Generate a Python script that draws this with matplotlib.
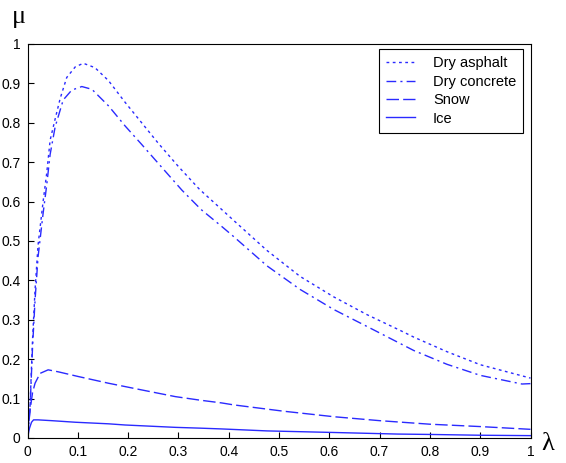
#!/usr/bin/env python

import numpy as np
from matplotlib import pyplot as plt

# slip ratio / friction coefficient
lam_asphalt = [0, 0.005, 0.010, 0.015, 0.021, 0.031, 0.038, 0.045, 0.055, 0.065, 0.078, 0.095,
               0.111, 0.134, 0.161, 0.194, 0.227, 0.260, 0.300, 0.342, 0.386, 0.410, 0.476,
               0.542, 0.609, 0.675, 0.741, 0.768, 0.834, 0.900, 1.0]
mu_asphalt = [0, 0.08, 0.25, 0.376, 0.49, 0.60, 0.67, 0.756, 0.81, 0.862, 0.915, 0.942,
              0.951, 0.940, 0.907, 0.852, 0.800, 0.748, 0.689, 0.631, 0.580, 0.552, 0.476,
              0.410, 0.358, 0.313, 0.273, 0.256, 0.219, 0.186, 0.152]

lam_concrete = [0, 0.005, 0.010, 0.015, 0.021, 0.031, 0.038, 0.045, 0.055, 0.071, 0.088, 0.108,
                0.128, 0.161, 0.194, 0.227, 0.260, 0.307, 0.345, 0.386, 0.410, 0.476, 0.542,
                0.609, 0.675, 0.701, 0.768, 0.834, 0.900, 0.983, 1.0]
mu_concrete = [0, 0.075, 0.23, 0.35, 0.46, 0.57, 0.64, 0.72, 0.79, 0.858, 0.883, 0.892,
               0.885, 0.843, 0.792, 0.745, 0.697, 0.629, 0.580, 0.537, 0.511, 0.437, 0.377,
               0.326, 0.283, 0.266, 0.222, 0.187, 0.159, 0.137, 0.138]

lam_snow = [0, 0.005, 0.010, 0.015, 0.025, 0.041, 0.061, 0.101, 0.161, 0.227, 0.294, 0.343,
            0.386, 0.41, 0.509, 0.609, 0.70, 0.80, 0.90, 1.0]
mu_snow = [0, 0.07, 0.115, 0.139, 0.164, 0.173, 0.168, 0.156, 0.139, 0.122, 0.105, 0.096,
           0.089, 0.084, 0.068, 0.054, 0.044, 0.035, 0.029, 0.022]

lam_ice = [0, 0.004, 0.008, 0.012, 0.021, 0.048, 0.095, 0.161, 0.194, 0.294, 0.343, 0.386,
           0.476, 0.609, 0.735, 0.80, 0.90, 1.0]
mu_ice = [0, 0.025, 0.040, 0.046, 0.046, 0.044, 0.040, 0.036, 0.033, 0.027, 0.025, 0.023,
          0.018, 0.014, 0.010, 0.009, 0.007, 0.006]

xticks = np.arange(0, 1.01, 0.1)
yticks = np.arange(0, 1.01, 0.1)

plt.rc('font', family='Liberation Sans', size=10)
fig = plt.figure(figsize=(5.66, 4.63), dpi=100)
ax = fig.add_axes([0.0486, 0.054, 0.8887, 0.851])

blue = '#2a2aff'
ax.plot(lam_asphalt, mu_asphalt, color=blue, lw=1, dashes=(2, 2.5), label='Dry asphalt')
ax.plot(lam_concrete, mu_concrete, color=blue, lw=1, dashes=(7, 3, 1.5, 3), label='Dry concrete')
ax.plot(lam_snow, mu_snow, color=blue, lw=1, dashes=(9, 3), label='Snow')
ax.plot(lam_ice, mu_ice, color=blue, lw=1, label='Ice')

ax.set_xlim(0, 1)
ax.set_ylim(0, 1)
ax.set_xticks(xticks)
ax.set_yticks(yticks)
ax.set_xticklabels(['0'] + ['%g' % t for t in xticks[1:-1]] + ['1'])
ax.set_yticklabels(['0'] + ['%g' % t for t in yticks[1:-1]] + ['1'])
ax.tick_params(direction='in', length=4, width=0.8, top=False, right=False, pad=5)
for s in ax.spines.values():
    s.set_linewidth(0.8)

fig.text(0.034, 0.963, 'μ', family='Liberation Serif', fontsize=19, ha='center', va='center')
fig.text(0.968, 0.04, 'λ', family='Liberation Serif', fontsize=19, ha='center', va='center')

leg = ax.legend(loc='upper right', bbox_to_anchor=(0.986, 0.987), borderaxespad=0,
                fancybox=False, framealpha=1, edgecolor='black', handlelength=2.0,
                borderpad=0.5, labelspacing=0.3, handletextpad=1.2, fontsize=10.5)
leg.get_frame().set_linewidth(0.8)

plt.savefig('out.png', dpi=100)
